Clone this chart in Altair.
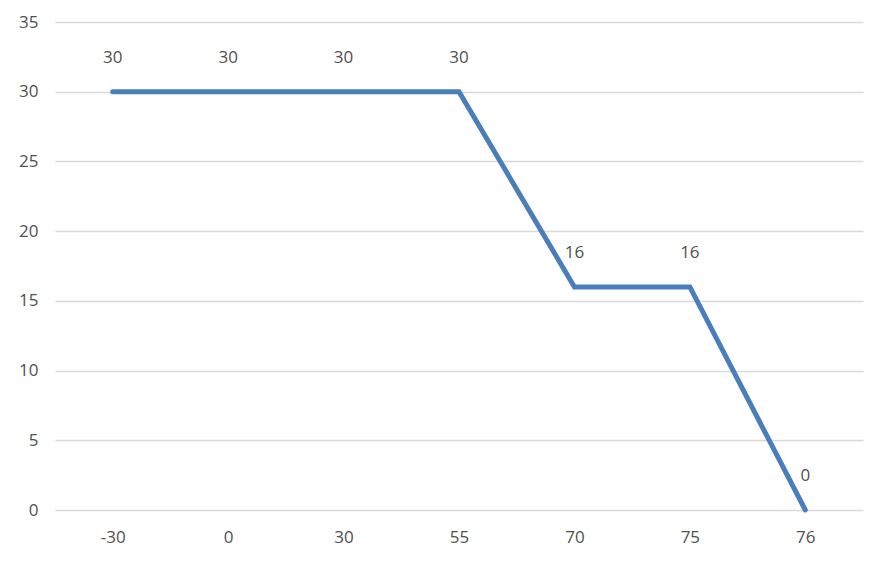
import altair as alt
import pandas as pd

categories = ["-30", "0", "30", "55", "70", "75", "76"]
values = [30, 30, 30, 30, 16, 16, 0]

df = pd.DataFrame({"x": categories, "y": values})

font = "Open Sans"
grey = "#505050"

base = alt.Chart(df).encode(
    x=alt.X("x:N", sort=categories, title=None,
            scale=alt.Scale(type="point", padding=0.5),
            axis=alt.Axis(labelAngle=0, labelFont=font, labelFontSize=17,
                          labelColor=grey, ticks=False, domain=False,
                          labelPadding=19, grid=False)),
    y=alt.Y("y:Q", title=None,
            scale=alt.Scale(domain=[0, 35]),
            axis=alt.Axis(values=[0, 5, 10, 15, 20, 25, 30, 35], labelFont=font,
                          labelFontSize=17, labelColor=grey, ticks=False,
                          domain=False, labelPadding=17, gridColor="#d9d9d9",
                          gridWidth=1.3)),
)

line = base.mark_line(color="#4a7ebb", strokeWidth=5, strokeCap="round",
                      strokeJoin="miter")
labels = base.mark_text(dy=-34, font=font, fontSize=17, color=grey).encode(
    text="y:Q")

chart = (line + labels).properties(
    width=808, height=488,
    background="white",
    autosize=alt.AutoSizeParams(type="none"),
    padding={"left": 47, "top": 14, "right": 10, "bottom": 40},
).configure_view(stroke=None)

chart.save("out.html", embed_options={"renderer": "svg", "actions": False})
